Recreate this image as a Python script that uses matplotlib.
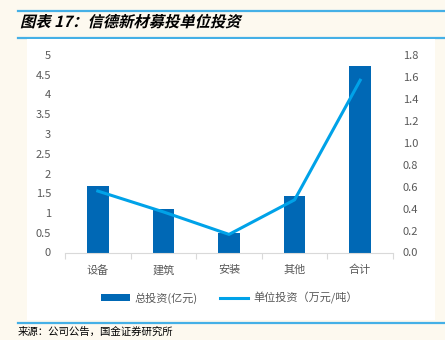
import matplotlib.pyplot as plt
from matplotlib.lines import Line2D
from matplotlib.patches import Rectangle, PathPatch
from matplotlib.textpath import TextPath
from matplotlib.font_manager import FontProperties
from matplotlib.transforms import Affine2D
import numpy as np

plt.rcParams['font.family'] = ['Noto Sans CJK SC', 'DejaVu Sans']

categories = ['设备', '建筑', '安装', '其他', '合计']
total_invest = [1.68, 1.10, 0.50, 1.44, 4.71]   # 亿元
unit_invest = [0.56, 0.37, 0.165, 0.48, 1.57]   # 万元/吨

bar_color = '#0068B5'
line_color = '#00A2E8'
tick_gray = '#595959'
cream = '#FDF9EF'

W, H = 445, 340
fig = plt.figure(figsize=(W / 100, H / 100), dpi=100)
fig.patch.set_facecolor(cream)

# blue rules, then the white panel over the middle one
for y in [10.7, 37.7, 322.5]:
    fig.add_artist(Line2D([18 / W, 1], [1 - y / H, 1 - y / H],
                          color='#45B0E6', lw=1.6, zorder=1))
fig.patches.append(Rectangle((27 / W, 1 - 320 / H), 408 / W, 281 / H,
                             transform=fig.transFigure, facecolor='white',
                             edgecolor='none', zorder=2))

# slanted bold title
fp = FontProperties(family='Noto Sans CJK SC', weight='bold')
tp = TextPath((0, 0), '图表 17：信德新材募投单位投资', size=15.3, prop=fp)
fig.patches.append(PathPatch(tp, facecolor='black', edgecolor='none',
                             transform=Affine2D().skew_deg(14, 0).translate(20, H - 27)
                             + Affine2D().scale(1 / W, 1 / H) + fig.transFigure,
                             zorder=3))

fig.text(18 / W, 1 - 332 / H, '来源：公司公告，国金证券研究所', fontsize=7.5,
         color='black', va='center', ha='left')

ax = fig.add_axes([65 / W, 1 - 252.5 / H, 328 / W, 197.5 / H])
ax.set_zorder(5)
ax.patch.set_visible(False)
x = np.arange(len(categories))
ax.bar(x, total_invest, width=0.33, color=bar_color, zorder=2, label='总投资(亿元)')
ax.set_xlim(-0.5, len(categories) - 0.5)
ax.set_ylim(0, 5)
ax.set_yticks(np.arange(0, 5.01, 0.5))
ax.set_yticklabels(['0', '0.5', '1', '1.5', '2', '2.5', '3', '3.5', '4', '4.5', '5'])
ax.set_xticks(x)
ax.set_xticklabels(categories)
ax.set_xticks(np.arange(-0.5, len(categories), 1), minor=True)
ax.tick_params(axis='x', which='major', length=0, pad=9, colors=tick_gray, labelsize=8)
ax.tick_params(axis='x', which='minor', length=4, color='#D9D9D9', width=0.8)
ax.tick_params(axis='y', length=0, pad=10, colors=tick_gray, labelsize=8)
for s in ['top', 'right', 'left']:
    ax.spines[s].set_visible(False)
ax.spines['bottom'].set_color('#D9D9D9')
ax.spines['bottom'].set_linewidth(0.8)

ax2 = ax.twinx()
ax2.plot(x, unit_invest, color=line_color, lw=2.2, zorder=3, label='单位投资（万元/吨）')
ax2.set_ylim(0, 1.8)
ax2.set_yticks(np.arange(0, 1.81, 0.2))
ax2.set_yticklabels([f'{v:.1f}' for v in np.arange(0, 1.81, 0.2)])
ax2.tick_params(axis='y', length=0, pad=7, colors=tick_gray, labelsize=8)
for s in ['top', 'right', 'left', 'bottom']:
    ax2.spines[s].set_visible(False)

h1, l1 = ax.get_legend_handles_labels()
h2, l2 = ax2.get_legend_handles_labels()
leg = fig.legend(h1 + h2, l1 + l2, loc='center', bbox_to_anchor=(0.515, 1 - 298 / H),
                 ncol=2, frameon=False, fontsize=8, handlelength=2.6, handleheight=0.5,
                 columnspacing=2.0, handletextpad=0.4)
for t in leg.get_texts():
    t.set_color(tick_gray)

fig.savefig('out.png', dpi=100, facecolor=cream)
